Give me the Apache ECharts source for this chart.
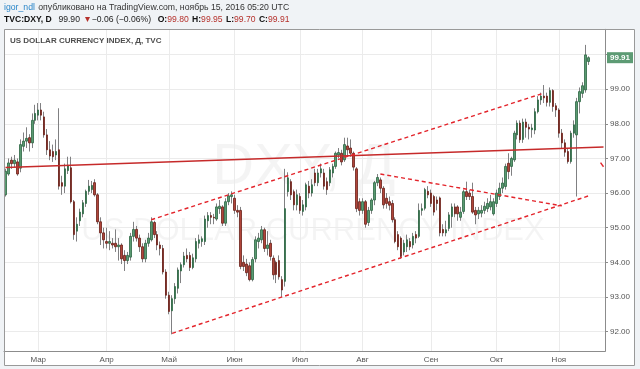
<!DOCTYPE html>
<html><head><meta charset="utf-8">
<script src="https://cdn.jsdelivr.net/npm/echarts@6/dist/echarts.min.js"></script>
<style>html,body{margin:0;padding:0;background:#f0f3f6;}#c{width:640px;height:369px;}</style>
</head><body><div id="c"></div>
<script>
// trading days (weekdays) per month; the last 5 November days are empty slots on the right
const tradingDays = {
  '2016-02': [15,16,17,18,19,22,23,24,25,26,29],
  '2016-03': [1,2,3,4,7,8,9,10,11,14,15,16,17,18,21,22,23,24,25,28,29,30,31],
  '2016-04': [1,4,5,6,7,8,11,12,13,14,15,18,19,20,21,22,25,26,27,28,29],
  '2016-05': [2,3,4,5,6,9,10,11,12,13,16,17,18,19,20,23,24,25,26,27,30,31],
  '2016-06': [1,2,3,6,7,8,9,10,13,14,15,16,17,20,21,22,23,24,27,28,29,30],
  '2016-07': [1,4,5,6,7,8,11,12,13,14,15,18,19,20,21,22,25,26,27,28,29],
  '2016-08': [1,2,3,4,5,8,9,10,11,12,15,16,17,18,19,22,23,24,25,26,29,30,31],
  '2016-09': [1,2,5,6,7,8,9,12,13,14,15,16,19,20,21,22,23,26,27,28,29,30],
  '2016-10': [3,4,5,6,7,10,11,12,13,14,17,18,19,20,21,24,25,26,27,28,31],
  '2016-11': [1,2,3,4,7,8,9,10,11,14,15,16,17,18,21,22]
};
const monthLabels = {'03':'Мар','04':'Апр','05':'Май','06':'Июн','07':'Июл','08':'Авг','09':'Сен','10':'Окт','11':'Ноя'};

const open = [95.95,96.55,96.95,96.85,96.9,96.72,97.35,97.5,97.6,97.45,
98.1,98.25,98.4,98.2,97.68,97.25,97.2,97.1,97.25,96.3,
96.2,96.65,96.73,95.75,94.9,95.2,95.4,95.7,96.05,96.1,
96.3,95.95,95.17,94.85,94.6,94.55,94.55,94.55,94.45,94.5,
94.2,94.05,94.15,94.75,94.95,94.7,94.45,94.1,94.55,94.65,
95.15,94.8,94.5,94.4,93.72,93.05,92.6,92.95,93.25,93.75,
93.93,94.2,94.2,93.85,94.1,94.55,94.6,94.6,95.2,95.35,
95.3,95.25,95.55,95.6,95.13,95.75,95.9,95.85,95.5,95.5,
94.0,93.95,93.9,93.5,94.1,94.6,94.65,94.94,94.4,94.55,
94.12,94.0,94.05,93.5,93.45,96.04,96.33,96.04,95.66,95.9,
95.47,95.6,96.2,96.0,96.58,96.3,96.58,96.58,96.33,96.3,
96.58,96.77,97.1,97.15,96.96,97.36,97.3,97.15,96.7,95.75,
95.5,95.75,95.15,95.5,95.8,96.3,96.38,96.14,95.85,95.75,
95.7,95.23,94.8,94.7,94.3,94.45,94.6,94.5,94.8,94.75,
95.5,95.56,96.05,96.0,95.9,95.8,95.86,94.95,94.85,94.98,
95.32,95.6,95.6,95.3,95.47,96.04,96.0,95.9,95.5,95.4,
95.42,95.5,95.55,95.6,95.4,95.7,95.9,96.14,96.19,96.86,
96.77,96.96,97.68,98.02,97.55,98.05,97.9,97.83,97.82,98.35,
98.69,98.8,98.8,98.62,98.96,98.52,98.4,97.73,97.45,97.2,
96.91,97.73,97.68,98.64,98.88,98.98,99.80];
const high = [96.7,97.0,97.05,97.1,97.0,97.55,97.75,97.9,97.7,98.3,
98.55,98.6,98.6,98.35,97.85,97.5,97.4,97.55,98.45,96.5,
96.85,97.05,97.05,95.8,95.3,95.55,95.8,96.1,96.38,96.35,
96.4,96.0,95.3,95.0,95.0,94.9,94.7,94.95,94.7,94.55,
94.35,94.3,94.85,95.17,95.05,94.8,94.55,94.65,94.85,95.3,
95.2,94.9,94.6,94.5,93.8,93.15,93.05,93.4,93.85,94.0,
94.3,94.4,94.3,94.25,94.7,94.8,94.75,95.35,95.45,95.45,
95.4,95.7,95.8,95.65,95.85,96.0,96.05,95.95,95.65,95.6,
94.2,94.1,94.0,94.15,94.75,94.85,95.05,95.0,94.9,94.65,
94.2,94.05,94.2,93.6,96.7,96.6,96.4,96.1,96.1,96.0,
95.8,96.3,96.35,96.4,96.7,96.7,96.85,96.7,96.45,96.75,
96.85,97.2,97.3,97.25,97.6,97.6,97.55,97.2,96.75,95.85,
95.85,95.8,95.6,95.85,96.35,96.55,96.45,96.2,96.0,95.9,
95.8,95.3,94.9,94.75,94.65,94.8,94.7,94.85,94.9,95.7,
95.7,96.15,96.2,96.1,95.95,95.9,95.9,95.1,95.2,95.45,
95.7,95.7,95.65,95.6,96.1,96.33,96.1,96.3,95.6,95.6,
95.65,95.75,95.85,95.95,95.85,96.1,96.3,96.45,96.85,97.15,
97.05,97.8,98.1,98.1,98.15,98.15,98.0,98.0,98.45,98.8,
98.9,99.12,98.9,99.05,99.0,98.6,98.45,97.85,97.55,97.3,
97.8,98.1,98.75,99.05,99.2,100.28,99.95];
const low = [95.9,96.5,96.7,96.75,96.5,96.6,97.2,97.3,97.2,97.3,
98.0,98.1,98.1,97.6,97.1,96.95,96.9,96.95,96.1,95.95,
96.0,96.55,95.7,94.65,94.6,95.05,95.3,95.6,95.95,96.0,
95.9,95.1,94.5,94.4,94.4,94.35,94.4,94.3,94.05,93.95,
93.75,93.95,94.05,94.6,94.6,94.3,94.0,94.0,94.45,94.6,
94.7,94.35,94.2,93.65,92.95,92.5,91.92,92.8,93.1,93.4,
93.85,94.0,93.75,93.8,94.0,94.4,94.45,94.5,95.0,95.1,
95.1,95.2,95.4,95.05,95.05,95.65,95.7,95.4,95.3,93.8,
93.75,93.6,93.45,93.45,94.0,94.4,94.55,94.3,94.2,94.05,
93.5,93.4,93.5,93.0,93.3,95.9,95.8,95.5,95.5,95.4,
95.35,95.5,95.85,95.9,96.2,96.2,96.45,96.1,95.95,96.2,
96.45,96.7,97.0,96.8,96.9,97.1,97.05,96.65,95.45,95.35,
95.4,95.0,95.05,95.4,95.65,96.2,96.0,95.55,95.55,95.5,
95.15,94.55,94.35,94.1,94.2,94.3,94.35,94.4,94.55,94.7,
95.35,95.5,95.85,95.6,95.35,95.5,94.75,94.75,94.75,94.9,
95.0,95.3,95.2,95.2,95.4,95.8,95.8,95.4,95.1,95.25,
95.3,95.4,95.45,95.5,95.35,95.6,95.8,96.0,96.1,96.4,
96.5,96.9,97.55,97.45,97.45,97.6,97.55,97.6,97.7,98.3,
98.55,98.6,98.5,98.5,98.35,98.2,97.6,97.3,97.05,96.85,
96.85,97.6,95.9,98.3,98.75,98.9,99.70];
const close = [96.63,96.87,96.85,96.95,96.55,97.4,97.5,97.58,97.45,98.1,
98.3,98.4,98.25,97.68,97.25,97.07,97.05,97.2,96.2,96.2,
96.7,96.8,95.75,94.8,95.1,95.45,95.72,96.05,96.2,96.22,
95.95,95.17,94.85,94.65,94.55,94.6,94.5,94.45,94.5,94.1,
94.05,94.2,94.75,94.95,94.7,94.45,94.1,94.55,94.7,95.17,
94.8,94.5,94.4,93.72,93.05,92.58,92.95,93.3,93.78,93.93,
94.18,94.1,93.85,94.13,94.6,94.65,94.68,95.25,95.35,95.3,
95.28,95.6,95.62,95.13,95.75,95.92,95.95,95.5,95.45,93.88,
93.88,93.7,93.5,94.08,94.65,94.7,94.94,94.4,94.5,94.17,
93.64,93.65,93.58,93.2,95.55,96.44,95.95,95.66,95.95,95.5,
95.66,96.24,96.0,96.24,96.3,96.58,96.7,96.2,96.1,96.67,
96.77,97.15,97.17,96.9,97.4,97.25,97.15,96.75,95.55,95.5,
95.75,95.1,95.5,95.8,96.3,96.45,96.14,95.66,95.7,95.65,
95.23,94.6,94.45,94.17,94.55,94.65,94.45,94.75,94.7,95.5,
95.55,96.1,95.95,95.7,95.45,95.7,94.85,94.85,94.94,95.37,
95.6,95.4,95.4,95.45,96.04,95.9,95.9,95.45,95.37,95.5,
95.5,95.62,95.7,95.75,95.75,96.0,96.14,96.29,96.77,96.62,
97.0,97.73,98.02,97.54,98.05,97.9,97.85,97.88,98.35,98.69,
98.8,98.75,98.62,98.96,98.5,98.4,97.73,97.45,97.18,96.91,
97.73,97.97,98.64,98.93,99.1,99.99,99.91];

// hand-drawn trend lines (date, price)
const levelLine = [['2016-02-15', 96.74], ['2016-11-22', 97.33]];
const channelTop = [['2016-04-22', 95.23], ['2016-10-25', 98.89]];
const channelBottom = [['2016-05-03', 91.95], ['2016-11-15', 95.92]];
const triangleTop = [['2016-08-09', 96.55], ['2016-11-02', 95.63]];
const edgeDash = [['2016-11-21', 96.88], ['2016-11-22', 96.76]];

const dates = [];
Object.keys(tradingDays).forEach(m => tradingDays[m].forEach(d => dates.push(m + '-' + String(d).padStart(2, '0'))));
const isMonthStart = dates.map((d, i) => i > 0 && d.slice(5, 7) !== dates[i - 1].slice(5, 7));

const wickData = open.map((o, i) => [o, close[i], low[i], high[i]]);
const bodyData = open.map((o, i) => [o, close[i], Math.min(o, close[i]), Math.max(o, close[i])]);

const FONT = 'Liberation Sans, Arial, sans-serif';
const chart = echarts.init(document.getElementById('c'), null, {renderer: 'canvas'});
const trend = (data, color, w, type) => ({
  type: 'line', data: data, symbol: 'none', silent: true, z: 6,
  lineStyle: {color: color, width: w, type: type}
});

chart.setOption({
  animation: false,
  backgroundColor: '#f0f3f6',
  grid: {left: 4, right: 35, top: 29.3, bottom: 17.7, containLabel: false},
  xAxis: {
    type: 'category', data: dates, boundaryGap: true,
    axisLine: {show: true, lineStyle: {color: '#8c8c8c', width: 1}},
    axisTick: {show: false},
    axisLabel: {
      interval: (i) => isMonthStart[i], margin: 4,
      formatter: (v) => monthLabels[v.slice(5, 7)] || '',
      color: '#555', fontSize: 8, fontFamily: FONT
    },
    splitLine: {show: true, interval: (i) => isMonthStart[i], alignWithLabel: true, lineStyle: {color: '#ebebeb', width: 1}}
  },
  yAxis: {
    type: 'value', position: 'right', scale: true, min: 91.43, max: 100.73, splitNumber: 9,
    axisLine: {show: true, lineStyle: {color: '#8c8c8c', width: 1}},
    axisTick: {show: true, length: 3, lineStyle: {color: '#8c8c8c'}},
    axisLabel: {
      margin: 5, color: '#555', fontSize: 8, fontFamily: FONT,
      showMinLabel: false, showMaxLabel: false,
      formatter: (v) => (Math.abs(v - Math.round(v)) < 1e-6 && v < 99.5) ? v.toFixed(2) : ''
    },
    splitLine: {show: true, lineStyle: {color: '#ebebeb', width: 1}}
  },
  graphic: [
    {type: 'rect', z: -10, shape: {x: 4, y: 29, width: 631, height: 337}, style: {fill: '#ffffff'}},
    {type: 'text', z: -5, style: {text: 'DXY, Д', x: 304, y: 168, align: 'center', verticalAlign: 'middle',
      font: '58px ' + FONT, fill: 'rgba(0,0,0,0.045)'}},
    {type: 'text', z: -5, style: {text: 'US DOLLAR CURRENCY INDEX', x: 313, y: 231, align: 'center', verticalAlign: 'middle',
      font: '31px ' + FONT, fill: 'rgba(0,0,0,0.045)'}},
    {type: 'rect', z: 50, shape: {x: 4.5, y: 29.5, width: 630, height: 336}, style: {fill: 'none', stroke: '#999', lineWidth: 1}},
    {type: 'text', z: 50, left: 10, top: 37, style: {text: 'US DOLLAR CURRENCY INDEX, Д, TVC', font: 'bold 8px ' + FONT, fill: '#4d4d4d'}},
    {type: 'text', z: 50, left: 4, top: 2, style: {
      text: '{u|igor_ndl} {t|опубликовано на TradingView.com, ноябрь 15, 2016 05:20 UTC}',
      rich: {u: {fill: '#2a86c9', font: '8.7px ' + FONT}, t: {fill: '#333', font: '8.7px ' + FONT}}}},
    {type: 'text', z: 50, left: 4, top: 14, style: {
      text: '{b|TVC:DXY, D}  {n|99.90} {r|▼}{n|\u22120.06 (\u22120.06%)}  {b|O:}{r|99.80} {b|H:}{r|99.95} {b|L:}{r|99.70} {b|C:}{r|99.91}',
      rich: {b: {fill: '#111', font: 'bold 8.6px ' + FONT}, n: {fill: '#222', font: '8.6px ' + FONT}, r: {fill: '#b5312c', font: '8.6px ' + FONT}}}}
  ],
  series: [
    {type: 'candlestick', data: wickData, barWidth: 1, silent: true, z: 3,
      itemStyle: {color: 'rgba(0,0,0,0)', color0: 'rgba(0,0,0,0)', borderColor: '#808082', borderColor0: '#808082', borderColorDoji: '#808082', borderWidth: 1}},
    {type: 'candlestick', data: bodyData, barWidth: 2, silent: true, z: 4,
      itemStyle: {color: '#5a9a71', color0: '#b0453a', borderColor: '#2c6642', borderColor0: '#6a2018', borderColorDoji: '#2c6642', borderWidth: 0.8},
      markLine: {silent: true, symbol: 'none', data: [{yAxis: close[close.length - 1]}],
        lineStyle: {color: 'rgba(0,0,0,0)', width: 0},
        label: {show: true, position: 'end', distance: 2, formatter: (p) => Number(p.value).toFixed(2), color: '#fff', fontWeight: 'bold',
          fontSize: 8, fontFamily: FONT, backgroundColor: '#5d9b74', padding: [2, 3, 1, 3]}}},
    trend(levelLine, '#c62a2a', 1.6, 'solid'),
    trend(channelTop, '#e3242b', 1.4, [4, 3]),
    trend(channelBottom, '#e3242b', 1.4, [4, 3]),
    trend(triangleTop, '#e3242b', 1.4, [4, 3]),
    trend(edgeDash, '#e3242b', 1.4, 'solid')
  ]
});
</script></body></html>
